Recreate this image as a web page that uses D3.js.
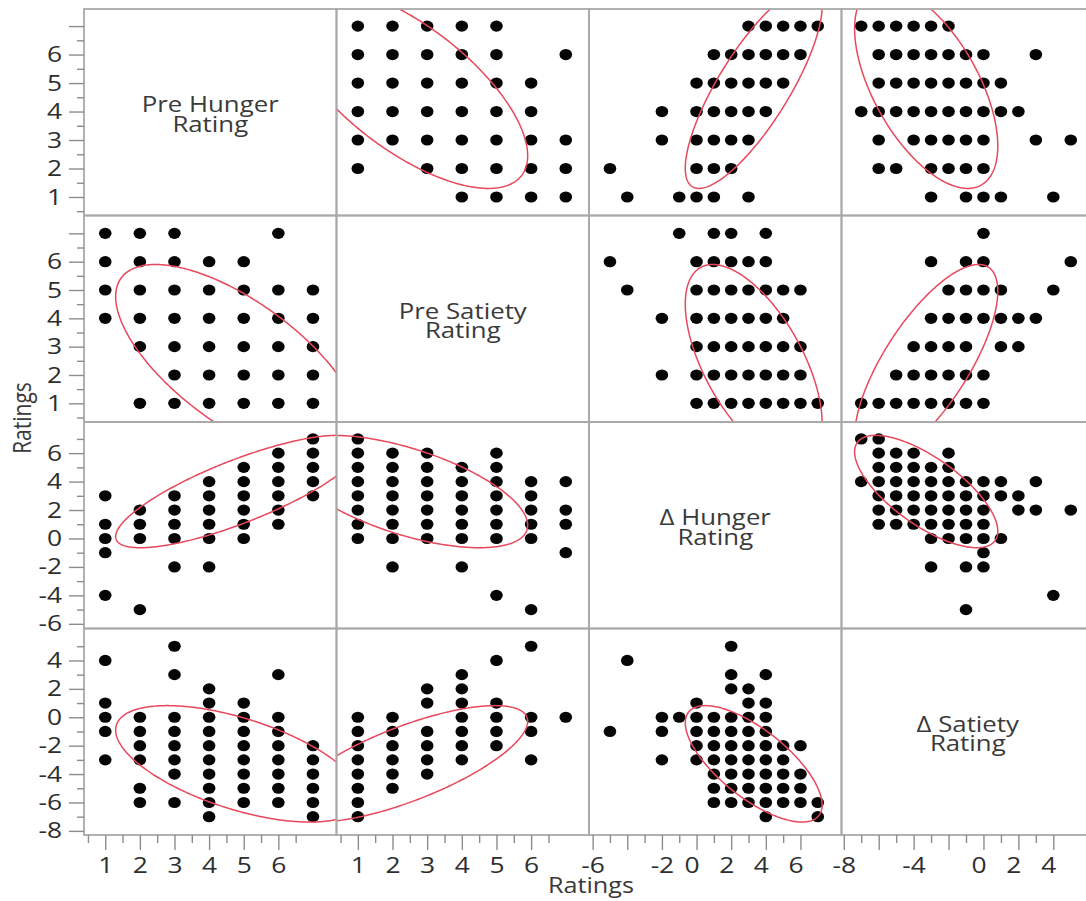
<!DOCTYPE html>
<html>
<head>
<meta charset="utf-8">
<script src="https://cdn.jsdelivr.net/npm/d3@7"></script>
<style>
  html, body { margin: 0; padding: 0; background: #fff; }
  svg { display: block; font-family: "Open Sans", "Noto Sans", sans-serif; }
</style>
</head>
<body>
<svg id="chart" width="1086" height="901"></svg>
<script>
// ---- Variables (diagonal titles, two lines each) ----
const varLines = [
  ["Pre Hunger", "Rating"],
  ["Pre Satiety", "Rating"],
  ["\u0394 Hunger", "Rating"],
  ["\u0394 Satiety", "Rating"]
];

// ---- Observed rating combinations ----
// Each entry: [value of first variable, values of second variable seen with it]
const hungerVsSatiety = [          // Pre Hunger, Pre Satiety
  [1, [4, 5, 6, 7]],
  [2, [1, 3, 4, 5, 6, 7]],
  [3, [1, 2, 3, 4, 5, 6, 7]],
  [4, [1, 2, 3, 4, 5, 6]],
  [5, [1, 2, 3, 4, 5, 6]],
  [6, [1, 2, 3, 4, 5, 7]],
  [7, [1, 2, 3, 4, 5]]
];
const hungerVsDeltaHunger = [      // Pre Hunger, Δ Hunger
  [1, [-4, -1, 0, 1, 3]],
  [2, [-5, 0, 1, 2]],
  [3, [-2, 0, 1, 2, 3]],
  [4, [-2, 0, 1, 2, 3, 4]],
  [5, [0, 1, 2, 3, 4, 5]],
  [6, [1, 2, 3, 4, 5, 6]],
  [7, [3, 4, 5, 6, 7]]
];
const hungerVsDeltaSatiety = [     // Pre Hunger, Δ Satiety
  [1, [-3, -1, 0, 1, 4]],
  [2, [-6, -5, -3, -2, -1, 0]],
  [3, [-6, -4, -3, -2, -1, 0, 3, 5]],
  [4, [-7, -6, -5, -4, -3, -2, -1, 0, 1, 2]],
  [5, [-6, -5, -4, -3, -2, -1, 0, 1]],
  [6, [-6, -5, -4, -3, -2, -1, 0, 3]],
  [7, [-7, -6, -5, -4, -3, -2]]
];
const satietyVsDeltaHunger = [     // Pre Satiety, Δ Hunger
  [1, [0, 1, 2, 3, 4, 5, 6, 7]],
  [2, [-2, 0, 1, 2, 3, 4, 5, 6]],
  [3, [0, 1, 2, 3, 4, 5, 6]],
  [4, [-2, 0, 1, 2, 3, 4, 5]],
  [5, [-4, 0, 1, 2, 3, 4, 5, 6]],
  [6, [-5, 0, 1, 2, 3, 4]],
  [7, [-1, 1, 2, 4]]
];
const satietyVsDeltaSatiety = [    // Pre Satiety, Δ Satiety
  [1, [-7, -6, -5, -4, -3, -2, -1, 0]],
  [2, [-5, -4, -3, -2, -1, 0]],
  [3, [-4, -3, -2, -1, 1, 2]],
  [4, [-3, -2, -1, 0, 1, 2, 3]],
  [5, [-2, -1, 0, 1, 4]],
  [6, [-3, -1, 0, 5]],
  [7, [0]]
];
const deltaHungerVsDeltaSatiety = [ // Δ Hunger, Δ Satiety
  [-5, [-1]],
  [-4, [4]],
  [-2, [-3, -1, 0]],
  [-1, [0]],
  [0, [-3, -2, -1, 0, 1]],
  [1, [-6, -5, -4, -3, -2, -1, 0]],
  [2, [-6, -5, -4, -3, -2, -1, 0, 2, 3, 5]],
  [3, [-6, -5, -4, -3, -2, -1, 0, 1, 2]],
  [4, [-7, -6, -5, -4, -3, -2, -1, 0, 1, 3]],
  [5, [-6, -5, -4, -3, -2]],
  [6, [-6, -5, -4, -2]],
  [7, [-7, -6]]
];

// ---- Summary statistics for the 95% density ellipses ----
const means = [4.85, 2.40, 3.30, -3.28];
const sds = [1.450, 1.430, 1.614, 1.675];
const correlations = [
  [ 1.000, -0.676,  0.800, -0.580],
  [-0.676,  1.000, -0.600,  0.730],
  [ 0.800, -0.600,  1.000, -0.705],
  [-0.580,  0.730, -0.705,  1.000]
];
const coverage = 0.95;

// ---- Axis ranges and ticks, one entry per variable ----
const xDomains = [[0.386, 7.68], [0.384, 7.67], [-6.21, 8.37], [-8.13, 6.33]];
const yDomains = [[0.35, 7.60], [0.34, 7.63], [-6.33, 8.19], [-8.29, 6.25]];

const yMajorTicks = [
  [1, 2, 3, 4, 5, 6, 7], [1, 2, 3, 4, 5, 6, 7],
  [-6, -4, -2, 0, 2, 4, 6], [-8, -6, -4, -2, 0, 2, 4]
];
const yMinorTicks = [
  [0.5, 1.5, 2.5, 3.5, 4.5, 5.5, 6.5], [0.5, 1.5, 2.5, 3.5, 4.5, 5.5, 6.5],
  [-5, -3, -1, 1, 3, 5, 7], [-7, -5, -3, -1, 1, 3, 5]
];
const yTickLabels = [
  [1, 2, 3, 4, 5, 6], [1, 2, 3, 4, 5, 6],
  [-6, -4, -2, 0, 2, 4, 6], [-8, -6, -4, -2, 0, 2, 4]
];
const xMajorTicks = [
  [1, 2, 3, 4, 5, 6], [1, 2, 3, 4, 5, 6],
  [-6, -4, -2, 0, 2, 4, 6], [-8, -6, -4, -2, 0, 2, 4]
];
const xMinorTicks = [
  [0.5, 1.5, 2.5, 3.5, 4.5, 5.5, 6.5], [0.5, 1.5, 2.5, 3.5, 4.5, 5.5, 6.5],
  [-5, -3, -1, 1, 3, 5], [-7, -5, -3, -1, 1, 3]
];
const xTickLabels = [
  [1, 2, 3, 4, 5, 6], [1, 2, 3, 4, 5, 6],
  [-6, -2, 0, 2, 4, 6], [-8, -4, 0, 2, 4]
];

const axisTitle = "Ratings";

// ---- Layout ----
const gridLeft = 84, gridTop = 9, cellW = 252.5, cellH = 206.5, nVars = 4;
const textStretch = 1.2;          // wide glyph rendering
const frameColor = "#a9a9a9";
const tickColor = "#8c8c8c";
const labelColor = "#2e2e2e";
const ellipseColor = "#e8485c";

const svg = d3.select("#chart");
svg.append("rect").attr("width", 1086).attr("height", 901).attr("fill", "#fff");

const xScales = d3.range(nVars).map(j =>
  d3.scaleLinear().domain(xDomains[j]).range([gridLeft + j * cellW, gridLeft + (j + 1) * cellW]));
const yScales = d3.range(nVars).map(i =>
  d3.scaleLinear().domain(yDomains[i]).range([gridTop + (i + 1) * cellH, gridTop + i * cellH]));

// Expand the grouped combinations to point pairs
function expand(rows) {
  const out = [];
  rows.forEach(([a, bs]) => bs.forEach(b => out.push([a, b])));
  return out;
}
const pairs = [
  { a: 0, b: 1, pts: expand(hungerVsSatiety) },
  { a: 0, b: 2, pts: expand(hungerVsDeltaHunger) },
  { a: 0, b: 3, pts: expand(hungerVsDeltaSatiety) },
  { a: 1, b: 2, pts: expand(satietyVsDeltaHunger) },
  { a: 1, b: 3, pts: expand(satietyVsDeltaSatiety) },
  { a: 2, b: 3, pts: expand(deltaHungerVsDeltaSatiety) }
];

// Off-diagonal panels: row i (y variable), column j (x variable)
const panels = [];
pairs.forEach(p => {
  panels.push({ row: p.a, col: p.b, pts: p.pts.map(([va, vb]) => ({ x: vb, y: va })) });
  panels.push({ row: p.b, col: p.a, pts: p.pts.map(([va, vb]) => ({ x: va, y: vb })) });
});

const defs = svg.append("defs");
d3.range(nVars).forEach(i => d3.range(nVars).forEach(j => {
  defs.append("clipPath").attr("id", `clip-${i}-${j}`)
    .append("rect")
    .attr("x", gridLeft + j * cellW).attr("y", gridTop + i * cellH)
    .attr("width", cellW).attr("height", cellH);
}));

// Density ellipse outline for x variable vx, y variable vy
const kRadius = Math.sqrt(-2 * Math.log(1 - coverage));
function ellipsePoints(vx, vy) {
  const r = correlations[vx][vy];
  const s = Math.sqrt(1 - r * r);
  return d3.range(0, 360, 1).map(deg => {
    const t = deg * Math.PI / 180;
    return {
      x: means[vx] + kRadius * sds[vx] * Math.cos(t),
      y: means[vy] + kRadius * sds[vy] * (r * Math.cos(t) + s * Math.sin(t))
    };
  });
}

const plotLayer = svg.append("g");
panels.forEach(pn => {
  const xs = xScales[pn.col], ys = yScales[pn.row];
  const g = plotLayer.append("g").attr("clip-path", `url(#clip-${pn.row}-${pn.col})`);
  g.selectAll("ellipse.pt").data(pn.pts).join("ellipse")
    .attr("class", "pt")
    .attr("cx", d => xs(d.x)).attr("cy", d => ys(d.y))
    .attr("rx", 6.3).attr("ry", 5.6)
    .attr("fill", "#050505");
  const line = d3.line().x(d => xs(d.x)).y(d => ys(d.y)).curve(d3.curveLinearClosed);
  g.append("path")
    .attr("d", line(ellipsePoints(pn.col, pn.row)))
    .attr("fill", "none")
    .attr("stroke", ellipseColor)
    .attr("stroke-width", 1.5);
});

// Diagonal titles
d3.range(nVars).forEach(i => {
  const cx = gridLeft + (i + 0.5) * cellW;
  const cy = gridTop + (i + 0.5) * cellH;
  const t = svg.append("g").attr("transform", `translate(${cx},${cy}) scale(${textStretch},1)`);
  varLines[i].forEach((ln, k) => {
    t.append("text").attr("x", 0).attr("y", k * 19.5)
      .attr("text-anchor", "middle")
      .attr("font-size", 21.5).attr("fill", "#3a3a3a")
      .text(ln);
  });
});

// Panel frames
const frames = svg.append("g");
d3.range(nVars).forEach(i => d3.range(nVars).forEach(j => {
  frames.append("rect")
    .attr("x", gridLeft + j * cellW).attr("y", gridTop + i * cellH)
    .attr("width", cellW).attr("height", cellH)
    .attr("fill", "none").attr("stroke", frameColor).attr("stroke-width", 1.8);
}));

// Left axes (one per row)
function styleTicks(g) {
  g.select(".domain").remove();
  g.selectAll(".tick line").attr("stroke", tickColor).attr("stroke-width", 1.4);
}
d3.range(nVars).forEach(i => {
  const gMinor = svg.append("g").attr("transform", `translate(${gridLeft},0)`)
    .call(d3.axisLeft(yScales[i]).tickValues(yMinorTicks[i]).tickSize(7).tickFormat(""));
  styleTicks(gMinor);
  const labels = yTickLabels[i];
  const gMajor = svg.append("g").attr("transform", `translate(${gridLeft},0)`)
    .call(d3.axisLeft(yScales[i]).tickValues(yMajorTicks[i]).tickSize(15).tickPadding(7)
      .tickFormat(d => labels.includes(d) ? String(d) : ""));
  styleTicks(gMajor);
  gMajor.selectAll(".tick text")
    .attr("font-size", 22).attr("fill", labelColor)
    .attr("font-family", "'Open Sans', 'Noto Sans', sans-serif")
    .attr("x", -22 / textStretch)
    .attr("transform", `scale(${textStretch},1)`);
});

// Bottom axes (one per column)
const bottomY = gridTop + nVars * cellH;
d3.range(nVars).forEach(j => {
  const gMinor = svg.append("g").attr("transform", `translate(0,${bottomY})`)
    .call(d3.axisBottom(xScales[j]).tickValues(xMinorTicks[j]).tickSize(8).tickFormat(""));
  styleTicks(gMinor);
  const labels = xTickLabels[j];
  const hasNegative = xDomains[j][0] < 0;
  const gMajor = svg.append("g").attr("transform", `translate(0,${bottomY})`)
    .call(d3.axisBottom(xScales[j]).tickValues(xMajorTicks[j]).tickSize(15).tickPadding(7)
      .tickFormat(d => labels.includes(d) ? String(d) : ""));
  styleTicks(gMajor);
  gMajor.selectAll(".tick text")
    .attr("font-size", 22).attr("fill", labelColor)
    .attr("font-family", "'Open Sans', 'Noto Sans', sans-serif")
    .attr("x", d => (hasNegative && d >= 0 ? -5 : 0) / textStretch)
    .attr("transform", `scale(${textStretch},1)`);
});

// Axis titles
svg.append("text")
  .attr("transform", `translate(591,893) scale(${textStretch},1)`)
  .attr("text-anchor", "middle").attr("font-size", 21).attr("fill", "#3a3a3a")
  .text(axisTitle);
svg.append("text")
  .attr("transform", `translate(31,418) scale(${textStretch},1) rotate(-90)`)
  .attr("text-anchor", "middle").attr("font-size", 21).attr("fill", "#3a3a3a")
  .text(axisTitle);
</script>
</body>
</html>
